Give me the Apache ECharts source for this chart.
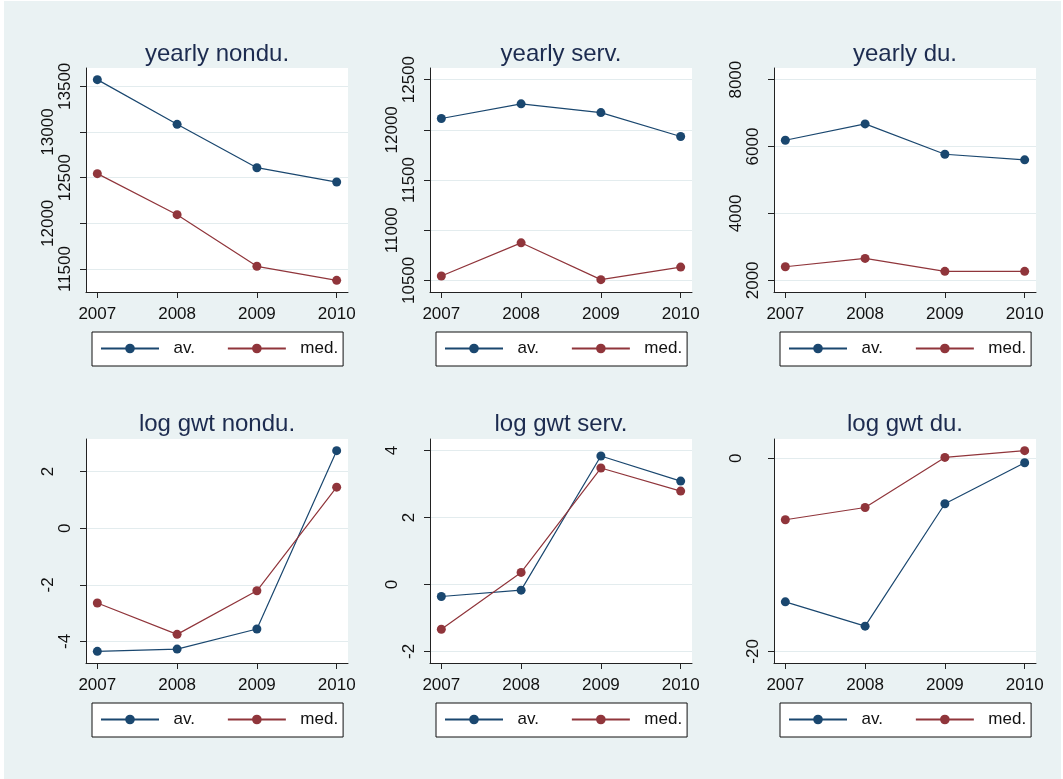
<!DOCTYPE html>
<html>
<head>
<meta charset="utf-8">
<script src="https://cdn.jsdelivr.net/npm/echarts@6/dist/echarts.min.js"></script>
<style>
  html, body { margin: 0; padding: 0; background: #ffffff; }
  #bg { position: absolute; left: 4px; top: 1px; width: 1057px; height: 778px; background: #eaf2f3; }
  #chart { position: absolute; left: 0; top: 0; width: 1063px; height: 779px; }
</style>
</head>
<body>
<div id="bg"></div>
<div id="chart"></div>
<script>
// ---- data ----
const years = [2007, 2008, 2009, 2010];
const seriesNames = ['av.', 'med.'];
const panelTitles = ['yearly nondu.', 'yearly serv.', 'yearly du.',
                     'log gwt nondu.', 'log gwt serv.', 'log gwt du.'];

const yearlyNonduAv  = [13573, 13084, 12609, 12452];
const yearlyNonduMed = [12544, 12095, 11530, 11376];
const yearlyServAv   = [12113, 12259, 12172, 11933];
const yearlyServMed  = [10543, 10874, 10507, 10632];
const yearlyDuAv     = [6188, 6677, 5770, 5603];
const yearlyDuMed    = [2406, 2657, 2269, 2269];
const logNonduAv     = [-4.35, -4.27, -3.56, 2.74];
const logNonduMed    = [-2.64, -3.75, -2.21, 1.45];
const logServAv      = [-0.36, -0.17, 3.84, 3.09];
const logServMed     = [-1.34, 0.36, 3.48, 2.79];
const logDuAv        = [-14.87, -17.39, -4.70, -0.45];
const logDuMed       = [-6.36, -5.09, 0.10, 0.80];

const ticksYearlyNondu = [11500, 12000, 12500, 13000, 13500];
const ticksYearlyServ  = [10500, 11000, 11500, 12000, 12500];
const ticksYearlyDu    = [2000, 4000, 6000, 8000];
const ticksLogNondu    = [-4, -2, 0, 2];
const ticksLogServ     = [-2, 0, 2, 4];
const ticksLogDu       = [-20, 0];

const panelData = [
  [yearlyNonduAv, yearlyNonduMed, ticksYearlyNondu],
  [yearlyServAv,  yearlyServMed,  ticksYearlyServ],
  [yearlyDuAv,    yearlyDuMed,    ticksYearlyDu],
  [logNonduAv,    logNonduMed,    ticksLogNondu],
  [logServAv,     logServMed,     ticksLogServ],
  [logDuAv,       logDuMed,       ticksLogDu]
];

// ---- layout & style ----
const FONT = '"Liberation Sans", Arial, Helvetica, sans-serif';
const colors = ['#1a476f', '#90353b'];
const colLeft = [86, 430, 774];
const colWidth = 262;
const rowTop = [68, 439];
const rowHeight = 224;
const titleTop = [42, 412];
const legendTop = [332, 703];
const legendLeft = [92, 436, 780];
const xPad = 0.142;     // plot region margin on each side, in years
const yPadFrac = 0.058; // plot region margin as share of the value span
const labelInner = 12;  // y label distance from the axis line
const labelOuter = 29;  // staggered y labels sit one line further out

const option = {
  animation: false,
  backgroundColor: 'transparent',
  title: [], grid: [], xAxis: [], yAxis: [], legend: [], series: []
};

function yLabelStyle(values, margin) {
  return {
    customValues: values, rotate: 90, margin: margin, fontSize: 17,
    fontFamily: FONT, color: '#111',
    showMinLabel: true, showMaxLabel: true, hideOverlap: false,
    formatter: function (v) { return String(v); }
  };
}

panelData.forEach(function (p, i) {
  const col = i % 3, row = Math.floor(i / 3);
  const av = p[0], med = p[1], ticks = p[2];
  const all = av.concat(med, ticks);
  const lo = Math.min.apply(null, all), hi = Math.max.apply(null, all);
  const pad = (hi - lo) * yPadFrac;
  const innerTicks = ticks.filter(function (t, k) { return k % 2 === 0; });
  const outerTicks = ticks.filter(function (t, k) { return k % 2 === 1; });

  option.title.push({
    text: panelTitles[i],
    left: colLeft[col] + colWidth / 2,
    top: titleTop[row],
    textAlign: 'center',
    padding: 0,
    textStyle: { fontFamily: FONT, fontSize: 24, fontWeight: 'normal', color: '#1c2b4f' }
  });

  option.grid.push({
    left: colLeft[col], top: rowTop[row], width: colWidth, height: rowHeight,
    show: true, backgroundColor: '#ffffff', borderWidth: 0,
    containLabel: false, outerBoundsMode: 'none'
  });

  option.xAxis.push({
    type: 'value', gridIndex: i,
    min: years[0] - xPad, max: years[years.length - 1] + xPad,
    axisLine: { show: true, onZero: false, lineStyle: { color: '#222', width: 1 } },
    axisTick: { show: true, length: 6, customValues: years, lineStyle: { color: '#222', width: 1 } },
    axisLabel: {
      customValues: years, margin: 14, fontSize: 17, fontFamily: FONT, color: '#111',
      showMinLabel: true, showMaxLabel: true, hideOverlap: false,
      formatter: function (v) { return String(v); }
    },
    splitLine: { show: false }
  });

  // main value axis: line, ticks, grid lines and the labels next to the axis
  option.yAxis.push({
    type: 'value', gridIndex: i, position: 'left',
    min: lo - pad, max: hi + pad,
    axisLine: { show: true, onZero: false, lineStyle: { color: '#222', width: 1 } },
    axisTick: { show: true, length: 6, customValues: ticks, lineStyle: { color: '#222', width: 1 } },
    axisLabel: yLabelStyle(innerTicks, labelInner),
    splitLine: { show: true, lineStyle: { color: '#e3ecee', width: 1 } }
  });
  // companion axis carrying the staggered (outer) labels only
  option.yAxis.push({
    type: 'value', gridIndex: i, position: 'left', offset: 0,
    min: lo - pad, max: hi + pad,
    axisLine: { show: false, onZero: false },
    axisTick: { show: false, customValues: outerTicks },
    axisLabel: yLabelStyle(outerTicks, labelOuter),
    splitLine: { show: false }
  });

  [av, med].forEach(function (vals, s) {
    option.series.push({
      name: seriesNames[s], type: 'line',
      xAxisIndex: i, yAxisIndex: 2 * i,
      data: years.map(function (y, k) { return [y, vals[k]]; }),
      symbol: 'circle', symbolSize: 9, showSymbol: true,
      lineStyle: { color: colors[s], width: 1.2 },
      itemStyle: { color: colors[s] },
      emphasis: { disabled: true }
    });
  });

  option.legend.push({
    data: seriesNames,
    left: legendLeft[col], top: legendTop[row],
    orient: 'horizontal', selectedMode: false,
    itemWidth: 58, itemHeight: 12, itemGap: 32,
    padding: [8, 5, 9, 8],
    backgroundColor: '#ffffff', borderColor: '#111', borderWidth: 1, borderRadius: 0,
    formatter: function (name) { return '  ' + name; },
    textStyle: { fontFamily: FONT, fontSize: 17, color: '#111', lineHeight: 16 }
  });
});

const chart = echarts.init(document.getElementById('chart'), null, { renderer: 'canvas' });
chart.setOption(option);
</script>
</body>
</html>
